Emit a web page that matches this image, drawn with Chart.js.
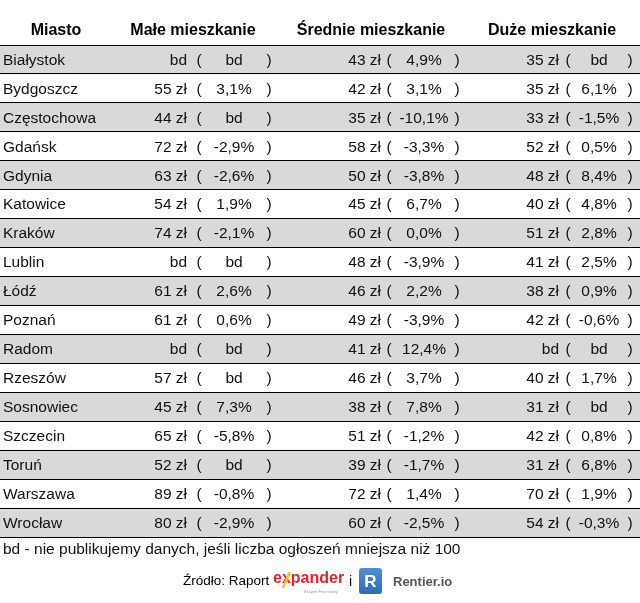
<!DOCTYPE html>
<html>
<head>
<meta charset="utf-8">
<script src="https://cdn.jsdelivr.net/npm/chart.js@4"></script>
<style>
  body { margin: 0; background: #fff; }
  canvas { display: block; }
</style>
</head>
<body>
<canvas id="myChart" width="640" height="603"></canvas>
<script>
const ctx = document.querySelector('#myChart').getContext('2d');

const headers = ['Miasto', 'Małe mieszkanie', 'Średnie mieszkanie', 'Duże mieszkanie'];
const cities = ['Białystok', 'Bydgoszcz', 'Częstochowa', 'Gdańsk', 'Gdynia', 'Katowice', 'Kraków', 'Lublin',
  'Łódź', 'Poznań', 'Radom', 'Rzeszów', 'Sosnowiec', 'Szczecin', 'Toruń', 'Warszawa', 'Wrocław'];
// null = bd (brak danych)
const smallPrice = [null, 55, 44, 72, 63, 54, 74, null, 61, 61, null, 57, 45, 65, 52, 89, 80];
const smallChange = [null, 3.1, null, -2.9, -2.6, 1.9, -2.1, null, 2.6, 0.6, null, null, 7.3, -5.8, null, -0.8, -2.9];
const mediumPrice = [43, 42, 35, 58, 50, 45, 60, 48, 46, 49, 41, 46, 38, 51, 39, 72, 60];
const mediumChange = [4.9, 3.1, -10.1, -3.3, -3.8, 6.7, 0.0, -3.9, 2.2, -3.9, 12.4, 3.7, 7.8, -1.2, -1.7, 1.4, -2.5];
const largePrice = [35, 35, 33, 52, 48, 40, 51, 41, 38, 42, null, 40, 31, 42, 31, 70, 54];
const largeChange = [null, 6.1, -1.5, 0.5, 8.4, 4.8, 2.8, 2.5, 0.9, -0.6, null, 1.7, null, 0.8, 6.8, 1.9, -0.3];
const footnote = 'bd - nie publikujemy danych, jeśli liczba ogłoszeń mniejsza niż 100';

// grey stripe on every other row
const stripes = cities.map((c, i) => i % 2 === 0 ? [0, 640] : null);

const fmtPrice = v => v === null ? 'bd' : v + ' zł';
const fmtChange = v => v === null ? 'bd' : v.toFixed(1).replace('.', ',') + '%';

// x positions of the parts of each value column
const cols = [
  { price: smallPrice, change: smallChange, priceRight: 187, open: 199, center: 234, close: 269, head: 193 },
  { price: mediumPrice, change: mediumChange, priceRight: 381, open: 389, center: 424, close: 457, head: 371 },
  { price: largePrice, change: largeChange, priceRight: 559, open: 568, center: 599, close: 630, head: 552 },
];

const tableText = {
  id: 'tableText',
  afterDraw(chart) {
    const c = chart.ctx;
    const x = chart.scales.x;
    const y = chart.scales.y;
    c.save();
    c.fillStyle = '#000';
    c.textBaseline = 'middle';

    // header
    c.font = 'bold 16px "Liberation Sans", Arial, sans-serif';
    c.textAlign = 'center';
    c.fillText(headers[0], x.getPixelForValue(56), 31);
    cols.forEach((col, k) => c.fillText(headers[k + 1], x.getPixelForValue(col.head), 31));

    // rows
    c.font = '15.5px "Liberation Sans", Arial, sans-serif';
    c.fillStyle = '#111';
    cities.forEach((city, i) => {
      const py = y.getPixelForValue(i) + 1;
      c.textAlign = 'left';
      c.fillText(city, x.getPixelForValue(3), py);
      cols.forEach(col => {
        c.textAlign = 'right';
        c.fillText(fmtPrice(col.price[i]), x.getPixelForValue(col.priceRight), py);
        c.textAlign = 'center';
        c.fillText('(', x.getPixelForValue(col.open), py);
        c.fillText(fmtChange(col.change[i]), x.getPixelForValue(col.center), py);
        c.fillText(')', x.getPixelForValue(col.close), py);
      });
    });

    // footnote
    c.textAlign = 'left';
    c.fillText(footnote, 3, 550);

    // source line
    c.fillStyle = '#000';
    c.font = '13.5px "Liberation Sans", Arial, sans-serif';
    c.fillText('Źródło: Raport', 183, 581);

    c.font = 'bold 16px "Liberation Sans", Arial, sans-serif';
    c.fillStyle = '#e0262b';
    const ex = 273;
    c.fillText('e', ex, 579);
    const ew = c.measureText('e').width;
    c.fillText('x', ex + ew, 579);
    const xw = c.measureText('x').width;
    c.fillText('pander', ex + ew + xw, 579);
    c.strokeStyle = '#f2c230';
    c.lineWidth = 2.5;
    c.beginPath();
    c.moveTo(ex + ew + 1, 588);
    c.lineTo(ex + ew + xw - 1, 572);
    c.stroke();
    c.font = '4px "Liberation Sans", Arial, sans-serif';
    c.fillStyle = '#999';
    c.fillText('Ekspert Finansowy', 304, 592);

    c.font = '14px "Liberation Sans", Arial, sans-serif';
    c.fillStyle = '#000';
    c.fillText('i', 349, 582);

    // R badge
    const g = c.createLinearGradient(0, 568, 0, 594);
    g.addColorStop(0, '#4f8fd6');
    g.addColorStop(1, '#2f6cb5');
    c.fillStyle = g;
    c.beginPath();
    c.roundRect(359, 568, 23, 26, 3);
    c.fill();
    c.fillStyle = '#fff';
    c.font = 'bold 17px "Liberation Sans", Arial, sans-serif';
    c.textAlign = 'center';
    c.fillText('R', 370.5, 582);

    c.fillStyle = '#555';
    c.font = 'bold 13px "Liberation Sans", Arial, sans-serif';
    c.textAlign = 'left';
    c.fillText('Rentier.io', 393, 582);
    c.restore();
  }
};

const data = {
  labels: cities,
  datasets: [{
    data: stripes,
    backgroundColor: '#d9d9d9',
    borderWidth: 0,
    barPercentage: 1,
    categoryPercentage: 1,
  }],
};

const config = {
  type: 'bar',
  data: data,
  options: {
    indexAxis: 'y',
    responsive: false,
    animation: false,
    layout: { padding: { top: 45, bottom: 66, left: 0, right: 0 } },
    plugins: {
      legend: { display: false },
      tooltip: { enabled: false }
    },
    scales: {
      x: { display: false, min: 0, max: 640 },
      y: {
        grid: { offset: true, drawTicks: false, color: '#000', lineWidth: 1, z: 1 },
        ticks: { display: false },
        border: { display: false }
      }
    }
  },
  plugins: [tableText],
};

const myChart = new Chart(ctx, config);
</script>
</body>
</html>
